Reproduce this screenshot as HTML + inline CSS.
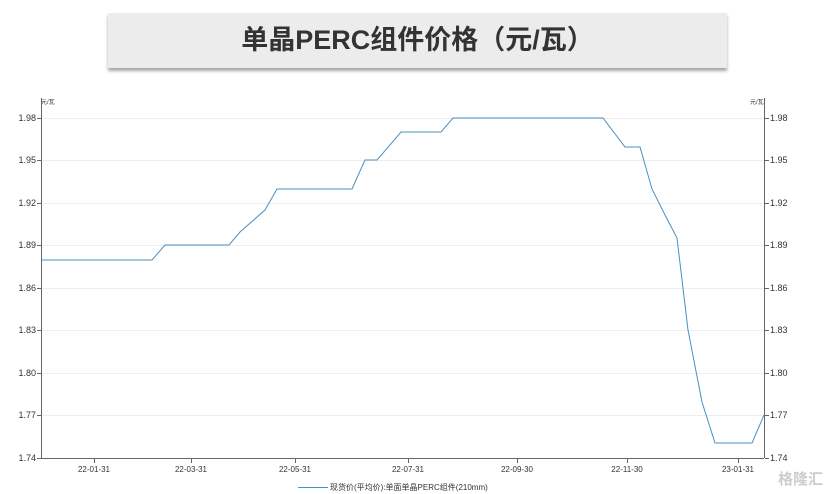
<!DOCTYPE html>
<html><head><meta charset="utf-8"><style>
body{margin:0;width:830px;height:494px;background:#fff;overflow:hidden;position:relative;font-family:"Liberation Sans","Noto Sans CJK SC",sans-serif}
.t{position:absolute;left:108px;top:13px;width:619px;height:55px;background:#ececec;box-shadow:0 3px 3px rgba(0,0,0,.35);text-align:center;line-height:55px;font-size:27px;font-weight:bold;color:#333;font-family:"Liberation Sans","Noto Sans CJK SC",sans-serif}
</style></head><body>
<div class="t">单晶PERC组件价格（元/瓦）</div>
<svg width="830" height="494" style="position:absolute;left:0;top:0" font-family="Liberation Sans, Noto Sans CJK SC, sans-serif">
<g stroke="#eee" stroke-width="1">
<line x1="41" x2="764" y1="118.5" y2="118.5"/><line x1="41" x2="764" y1="160.5" y2="160.5"/><line x1="41" x2="764" y1="203.5" y2="203.5"/><line x1="41" x2="764" y1="245.5" y2="245.5"/><line x1="41" x2="764" y1="288.5" y2="288.5"/><line x1="41" x2="764" y1="330.5" y2="330.5"/><line x1="41" x2="764" y1="373.5" y2="373.5"/><line x1="41" x2="764" y1="415.5" y2="415.5"/>
</g>
<g stroke="#666" stroke-width="1">
<line x1="41.5" x2="41.5" y1="98" y2="458"/><line x1="764.5" x2="764.5" y1="98" y2="458"/>
<line x1="41" x2="764" y1="458.5" y2="458.5"/>
<path d="M37 118.5h4M37 160.5h4M37 203.5h4M37 245.5h4M37 288.5h4M37 330.5h4M37 373.5h4M37 415.5h4M37 458.5h4M765 118.5h4M765 160.5h4M765 203.5h4M765 245.5h4M765 288.5h4M765 330.5h4M765 373.5h4M765 415.5h4M765 458.5h4"/>
<path d="M94.5 459v4M191.5 459v4M295.5 459v4M408.5 459v4M517.5 459v4M627.5 459v4M738.5 459v4"/>
</g>
<g font-size="9" fill="#333">
<text x="36" y="121" text-anchor="end">1.98</text><text x="770" y="121">1.98</text>
<text x="36" y="163" text-anchor="end">1.95</text><text x="770" y="163">1.95</text>
<text x="36" y="206" text-anchor="end">1.92</text><text x="770" y="206">1.92</text>
<text x="36" y="248" text-anchor="end">1.89</text><text x="770" y="248">1.89</text>
<text x="36" y="291" text-anchor="end">1.86</text><text x="770" y="291">1.86</text>
<text x="36" y="333" text-anchor="end">1.83</text><text x="770" y="333">1.83</text>
<text x="36" y="376" text-anchor="end">1.80</text><text x="770" y="376">1.80</text>
<text x="36" y="418" text-anchor="end">1.77</text><text x="770" y="418">1.77</text>
<text x="36" y="461" text-anchor="end">1.74</text><text x="770" y="461">1.74</text>
<text x="41" y="104" font-size="6">元/瓦</text><text x="750" y="104" font-size="6">元/瓦</text>
</g>
<g font-size="8" fill="#333" text-anchor="middle">
<text x="94" y="472">22-01-31</text><text x="191" y="472">22-03-31</text><text x="295" y="472">22-05-31</text><text x="408" y="472">22-07-31</text><text x="517" y="472">22-09-30</text><text x="627" y="472">22-11-30</text><text x="738" y="472">23-01-31</text>
</g>
<polyline fill="none" stroke="#4a90c0" stroke-width="1" points="41,260 152,260 165,245 229,245 240,232 265,210 277,189 352,189 365,160 377,160 401,132 441,132 453,118 603,118 625,147 640,147 652,189 665,215 677,238 688,330 702,402 715,443 752,443 764,415"/>
<line x1="298" x2="328" y1="487.5" y2="487.5" stroke="#4a90c0"/>
<text x="330" y="490" font-size="8" fill="#333">现货价(平均价):单面单晶PERC组件(210mm)</text>
<text x="778" y="484" font-size="15" fill="#ccc" font-weight="bold">格隆汇</text>
</svg>
</body></html>
